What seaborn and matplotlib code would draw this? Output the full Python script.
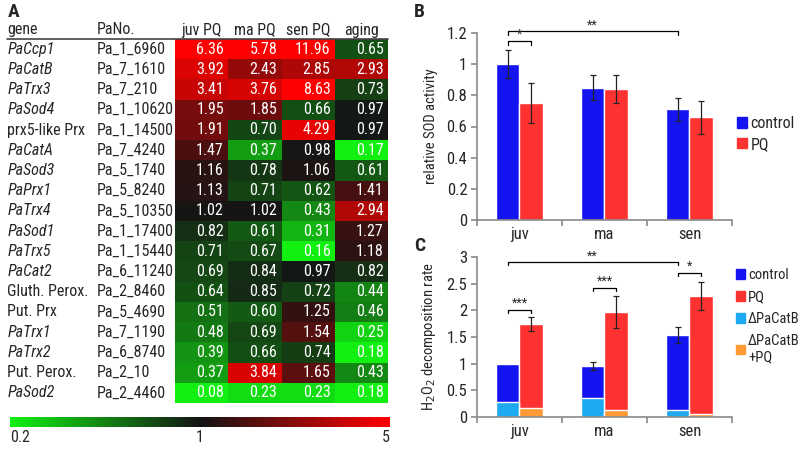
import numpy as np
import pandas as pd
import matplotlib
matplotlib.use('Agg')
import matplotlib.pyplot as plt
import seaborn as sns
from matplotlib.colors import LinearSegmentedColormap, LogNorm
from matplotlib.patches import Patch
from matplotlib.ticker import NullLocator, FuncFormatter
import matplotlib.font_manager as fm

# ---- panel A data ----
genes = ['PaCcp1', 'PaCatB', 'PaTrx3', 'PaSod4', 'prx5-like Prx', 'PaCatA', 'PaSod3',
         'PaPrx1', 'PaTrx4', 'PaSod1', 'PaTrx5', 'PaCat2', 'Gluth. Perox.', 'Put. Prx',
         'PaTrx1', 'PaTrx2', 'Put. Perox.', 'PaSod2']
pa_no = ['Pa_1_6960', 'Pa_7_1610', 'Pa_7_210', 'Pa_1_10620', 'Pa_1_14500', 'Pa_7_4240',
         'Pa_5_1740', 'Pa_5_8240', 'Pa_5_10350', 'Pa_1_17400', 'Pa_1_15440', 'Pa_6_11240',
         'Pa_2_8460', 'Pa_5_4690', 'Pa_7_1190', 'Pa_6_8740', 'Pa_2_10', 'Pa_2_4460']
juv_pq = [6.36, 3.92, 3.41, 1.95, 1.91, 1.47, 1.16, 1.13, 1.02, 0.82, 0.71, 0.69, 0.64, 0.51, 0.48, 0.39, 0.37, 0.08]
ma_pq = [5.78, 2.43, 3.76, 1.85, 0.70, 0.37, 0.78, 0.71, 1.02, 0.61, 0.67, 0.84, 0.85, 0.60, 0.69, 0.66, 3.84, 0.23]
sen_pq = [11.96, 2.85, 8.63, 0.66, 4.29, 0.98, 1.06, 0.62, 0.43, 0.31, 0.16, 0.97, 0.72, 1.25, 1.54, 0.74, 1.65, 0.23]
aging = [0.65, 2.93, 0.73, 0.97, 0.97, 0.17, 0.61, 1.41, 2.94, 1.27, 1.18, 0.82, 0.44, 0.46, 0.25, 0.18, 0.43, 0.18]

# ---- panel B data ----
ages = ['juv', 'ma', 'sen']
sod_control = [1.0, 0.85, 0.71]
sod_control_err = [0.09, 0.08, 0.075]
sod_pq = [0.75, 0.84, 0.66]
sod_pq_err = [0.13, 0.09, 0.105]

# ---- panel C data ----
h2o2_control = [1.0, 0.96, 1.53]
h2o2_control_err = [0.0, 0.075, 0.15]
h2o2_pq = [1.74, 1.97, 2.27]
h2o2_pq_err = [0.13, 0.3, 0.26]
h2o2_catb = [0.28, 0.36, 0.14]
h2o2_catb_pq = [0.16, 0.14, 0.06]

BLUE = '#1414f0'
RED = '#ff3232'
LIGHTBLUE = '#1eaaf0'
ORANGE = '#ff9a35'
GRAY = '#8a8a8a'

sns.set_theme(style='white')
# narrow sans like the original; fall back to Liberation Sans
names = {f.name for f in fm.fontManager.ttflist}
fam = 'Liberation Sans'
for cand in ['Arial Narrow', 'Liberation Sans Narrow', 'Roboto Condensed', 'Archivo Narrow', 'PT Sans Narrow']:
    if cand in names:
        fam = cand
        break
narrow = fam != 'Liberation Sans'
FS = 11.5 if narrow else 9.5
plt.rcParams['font.family'] = [fam, 'DejaVu Sans']

fig = plt.figure(figsize=(8, 4.5), dpi=100)

# ================= Panel A =================
W, H = 800, 450
def box(x0, y0, x1, y1):
    return [x0 / W, 1 - y1 / H, (x1 - x0) / W, (y1 - y0) / H]

axA = fig.add_axes(box(175, 39, 388, 403))
cax = fig.add_axes(box(10, 417, 390, 427))

heat = pd.DataFrame({'juv PQ': juv_pq, 'ma PQ': ma_pq, 'sen PQ': sen_pq, 'aging': aging}, index=genes)
cmap = LinearSegmentedColormap.from_list('gkr', ['#12f012', '#141414', '#ff0000'])
sns.heatmap(heat, ax=axA, cmap=cmap, norm=LogNorm(vmin=0.2, vmax=5), annot=True, fmt='.2f',
            annot_kws={'color': 'white', 'fontsize': FS}, cbar_ax=cax,
            cbar_kws={'orientation': 'horizontal'}, yticklabels=False)

for t in axA.texts:
    x, y = t.get_position()
    t.set_position((x + 0.42, y))
    t.set_ha('right')

axA.xaxis.tick_top()
axA.set_xticklabels(heat.columns, fontsize=FS, rotation=0)
axA.tick_params(axis='x', length=0, pad=1)
axA.set_xlabel('')
axA.set_ylabel('')

tr = axA.get_yaxis_transform()
for i, (g, p) in enumerate(zip(genes, pa_no)):
    style = 'italic' if g.startswith('Pa') else 'normal'
    axA.text(-0.787, i + 0.5, g, transform=tr, ha='left', va='center', fontsize=FS, style=style)
    axA.text(-0.367, i + 0.5, p, transform=tr, ha='left', va='center', fontsize=FS)
axA.text(-0.787, 1.005, 'gene', transform=axA.transAxes, ha='left', va='bottom', fontsize=FS)
axA.text(-0.367, 1.005, 'PaNo.', transform=axA.transAxes, ha='left', va='bottom', fontsize=FS)
axA.plot([-0.79, 1.0], [1.0, 1.0], transform=axA.transAxes, color='#444444', lw=1.2, clip_on=False)

cbar = axA.collections[0].colorbar
cbar.set_ticks([0.2, 1, 5])
cbar.ax.xaxis.set_minor_locator(NullLocator())
cbar.set_ticklabels(['0.2', '1', '5'])
cbar.ax.tick_params(length=0, labelsize=FS, pad=2)
cbar.outline.set_visible(False)
labs = cbar.ax.get_xticklabels()
labs[0].set_ha('left')
labs[-1].set_ha('right')

fig.text(8 / W, 1 - 12 / H, 'A', fontsize=14, fontweight='bold', va='center', ha='left')
fig.text(414 / W, 1 - 12 / H, 'B', fontsize=14, fontweight='bold', va='center', ha='left')
fig.text(414 / W, 1 - 246 / H, 'C', fontsize=14, fontweight='bold', va='center', ha='left')


def style_bar_axis(ax, ymax, step):
    for s in ['top', 'right']:
        ax.spines[s].set_visible(False)
    for s in ['left', 'bottom']:
        ax.spines[s].set_color(GRAY)
        ax.spines[s].set_linewidth(1.2)
    ax.set_ylim(0, ymax)
    ax.set_xlim(-0.5, 2.5)
    ax.set_yticks(np.arange(0, ymax + step / 2, step))
    ax.yaxis.set_major_formatter(FuncFormatter(lambda v, p: f'{v:g}'))
    ax.tick_params(axis='y', left=True, length=4, color=GRAY, width=1.2, labelsize=FS + 0.5, pad=3)
    ax.tick_params(axis='x', which='major', bottom=False, length=0, labelsize=FS + 0.5, pad=5)
    ax.set_xticks([-0.5, 0.5, 1.5, 2.5], minor=True)
    ax.tick_params(axis='x', which='minor', bottom=True, length=4, color=GRAY, width=1.2)
    ax.set_xlabel('')


def bracket(ax, x1, x2, y, h, text):
    ax.plot([x1, x1, x2, x2], [y - h, y, y, y - h], color='black', lw=0.9, clip_on=False)
    ax.text((x1 + x2) / 2, y, text, ha='center', va='bottom', fontsize=9)


def bar_centers(container):
    return [b.get_x() + b.get_width() / 2 for b in container]

leg_kw = dict(frameon=False, handlelength=0.6, handleheight=0.6,
              handletextpad=0.25, borderaxespad=0, borderpad=0)

# ================= Panel B =================
axB = fig.add_axes(box(477, 33, 732, 220))
dfB = pd.DataFrame({'age': ages * 2,
                    'group': ['control'] * 3 + ['PQ'] * 3,
                    'value': sod_control + sod_pq})
sns.barplot(data=dfB, x='age', y='value', hue='group', palette=[BLUE, RED], width=0.56,
            ax=axB, legend=False, saturation=1)
style_bar_axis(axB, 1.2, 0.2)
axB.set_ylabel('relative SOD activity', fontsize=FS - 1, labelpad=6)
for cont, vals, errs in zip(axB.containers, [sod_control, sod_pq], [sod_control_err, sod_pq_err]):
    axB.errorbar(bar_centers(cont), vals, yerr=errs, fmt='none', ecolor='#222222',
                 elinewidth=0.9, capsize=2.5, capthick=0.9)
cB = bar_centers(axB.containers[0])
pB = bar_centers(axB.containers[1])
bracket(axB, cB[0], pB[0], 1.15, 0.025, '*')
bracket(axB, cB[0], cB[2], 1.21, 0.02, '**')
axB.legend(handles=[Patch(color=BLUE, label='control'), Patch(color=RED, label='PQ')],
           loc='center left', bbox_to_anchor=(1.02, 0.46), fontsize=FS, labelspacing=0.35, **leg_kw)

# ================= Panel C =================
axC = fig.add_axes(box(477, 257, 732, 417))
dfC = pd.DataFrame({'age': ages * 2,
                    'group': ['control'] * 3 + ['PQ'] * 3,
                    'value': h2o2_control + h2o2_pq})
dfC2 = pd.DataFrame({'age': ages * 2,
                     'group': ['dcontrol'] * 3 + ['dPQ'] * 3,
                     'value': h2o2_catb + h2o2_catb_pq})
sns.barplot(data=dfC, x='age', y='value', hue='group', palette=[BLUE, RED], width=0.56,
            ax=axC, legend=False, saturation=1)
sns.barplot(data=dfC2, x='age', y='value', hue='group', palette=[LIGHTBLUE, ORANGE], width=0.56,
            ax=axC, legend=False, saturation=1)
style_bar_axis(axC, 3.0, 0.5)
axC.set_ylabel('H$_2$O$_2$ decomposition rate', fontsize=FS - 1, labelpad=6)
for cont, vals, errs in zip(axC.containers[:2], [h2o2_control, h2o2_pq], [h2o2_control_err, h2o2_pq_err]):
    xs = bar_centers(cont)
    keep = [i for i, e in enumerate(errs) if e > 0]
    axC.errorbar([xs[i] for i in keep], [vals[i] for i in keep], yerr=[errs[i] for i in keep],
                 fmt='none', ecolor='#222222', elinewidth=0.9, capsize=2.5, capthick=0.9)
cC = bar_centers(axC.containers[0])
pC = bar_centers(axC.containers[1])
bracket(axC, cC[0], pC[0], 2.01, 0.06, '***')
bracket(axC, cC[1], pC[1], 2.42, 0.06, '***')
bracket(axC, cC[2], pC[2], 2.70, 0.06, '*')
bracket(axC, cC[0], cC[2], 2.90, 0.05, '**')
axC.legend(handles=[Patch(color=BLUE, label='control'), Patch(color=RED, label='PQ'),
                    Patch(color=LIGHTBLUE, label='ΔPaCatB'), Patch(color=ORANGE, label='ΔPaCatB\n+PQ')],
           loc='upper left', bbox_to_anchor=(1.015, 0.93), fontsize=FS - 1, labelspacing=0.55, **leg_kw)

fig.savefig('out.png', dpi=100)
